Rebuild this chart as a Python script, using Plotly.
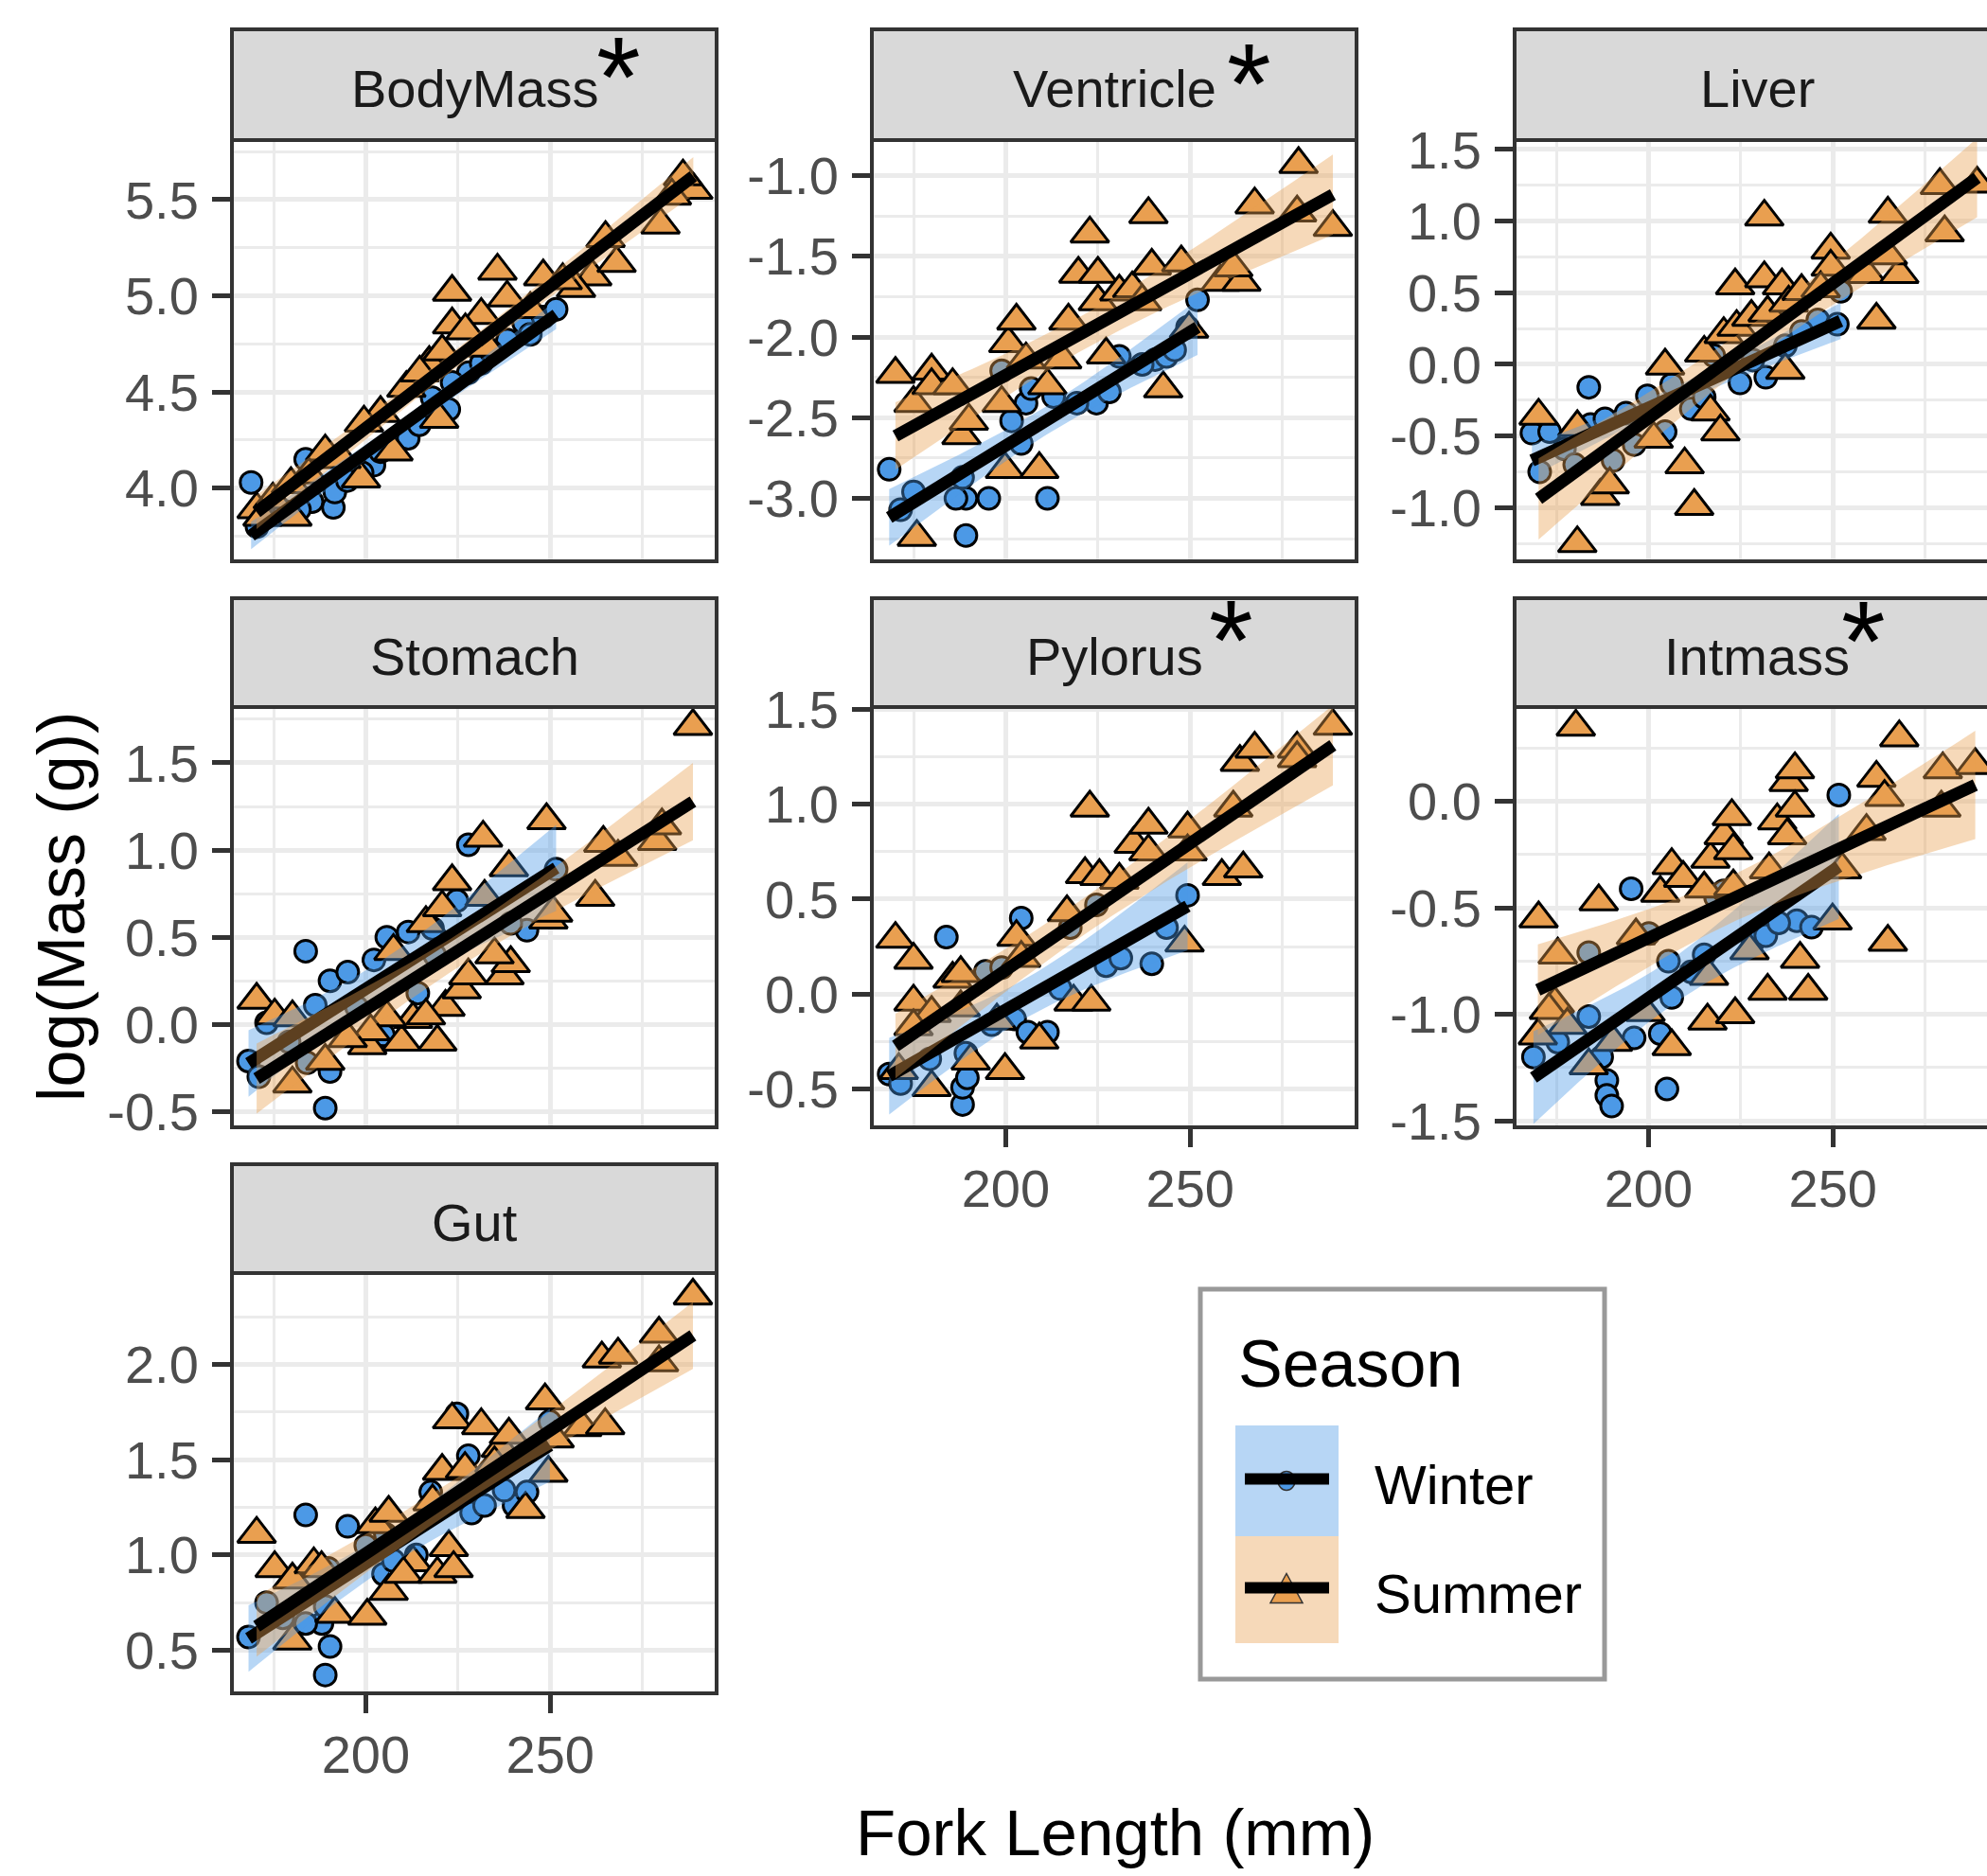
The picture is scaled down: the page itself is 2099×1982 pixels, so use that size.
import numpy as np
import plotly.graph_objects as go

W, H = 2099, 1982

# ---------------- data (fork length mm, log mass) ----------------
PANELS = ["BodyMass", "Ventricle", "Liver", "Stomach", "Pylorus", "Intmass", "Gut"]
STARRED = ["BodyMass", "Ventricle", "Pylorus", "Intmass"]
SEASONS = ["Winter", "Summer"]

BODYMASS_WINTER = [(168.9, 4.03), (183.7, 4.15), (191.2, 3.90), (191.6, 3.98), (185.4, 3.93), (202.2, 4.12),
                   (199.0, 4.08), (211.5, 4.26), (214.5, 4.33), (222.5, 4.41), (227.8, 4.60), (223.4, 4.55),
                   (231.3, 4.65), (238.4, 4.77), (242.8, 4.86), (248.1, 4.89), (251.6, 4.93), (218.0, 4.47),
                   (204.0, 4.19), (195.0, 4.04), (173.0, 3.85), (182.0, 3.89), (234.0, 4.71), (244.6, 4.80),
                   (170.5, 3.80), (178.0, 3.88)]
BODYMASS_SUMMER = [(170.4, 3.89), (174.8, 3.94), (180.1, 3.85), (179.7, 4.02), (189.0, 4.19), (198.7, 4.05),
                   (204.0, 4.39), (207.5, 4.19), (219.9, 4.36), (223.4, 5.02), (223.4, 4.85), (231.3, 4.90),
                   (235.7, 5.13), (238.3, 4.99), (248.1, 5.10), (261.4, 5.10), (268.0, 5.17), (265.0, 5.30),
                   (279.9, 5.37), (288.8, 5.55), (217.2, 4.65), (211.0, 4.52), (214.6, 4.60), (227.0, 4.82),
                   (233.0, 4.73), (257.0, 5.04), (253.4, 5.08), (220.7, 4.71), (199.5, 4.34), (193.4, 4.15),
                   (184.5, 4.07), (172.0, 3.85), (244.6, 4.93), (286.0, 5.62), (283.0, 5.52)]

VENTRICLE_WINTER = [(168.4, -2.82), (198.9, -2.21), (189.2, -3.00), (186.5, -3.00), (195.4, -3.00), (211.3, -3.00),
                    (189.2, -3.23), (204.2, -2.66), (205.5, -2.41), (206.9, -2.32), (224.6, -2.41), (228.1, -2.34),
                    (230.8, -2.12), (240.5, -2.14), (243.6, -2.12), (252.0, -1.77), (219.3, -2.41), (213.0, -2.37),
                    (188.3, -2.87), (175.0, -2.96), (171.5, -3.07), (201.6, -2.52), (237.0, -2.17), (245.8, -2.08),
                    (249.3, -1.94)]
VENTRICLE_SUMMER = [(170.1, -2.23), (175.0, -2.41), (179.9, -2.21), (179.9, -2.30), (185.6, -2.30), (175.9, -3.24),
                    (188.0, -2.61), (199.8, -2.82), (209.1, -2.82), (200.7, -2.04), (202.9, -1.90), (205.5, -2.14),
                    (198.9, -2.41), (211.3, -2.30), (222.8, -1.36), (219.7, -1.61), (225.0, -1.61), (225.0, -1.78),
                    (217.0, -1.90), (215.3, -2.14), (227.2, -2.11), (230.8, -1.72), (234.3, -1.70), (238.7, -1.24),
                    (239.6, -1.56), (247.6, -1.54), (242.7, -2.32), (258.2, -1.66), (263.9, -1.66), (261.7, -1.57),
                    (267.5, -1.18), (279.4, -0.93), (279.0, -1.23), (288.7, -1.32), (190.0, -2.52), (249.7, -1.95),
                    (237.0, -1.78)]

LIVER_WINTER = [(168.4, -0.48), (173.2, -0.47), (183.8, -0.16), (184.3, -0.42), (188.2, -0.38), (193.9, -0.34),
                (196.1, -0.56), (199.7, -0.22), (204.5, -0.47), (206.3, -0.14), (211.6, -0.31), (215.1, -0.23),
                (217.7, 0.06), (224.8, -0.13), (231.8, -0.09), (228.3, 0.03), (245.9, 0.31), (251.2, 0.28),
                (252.1, 0.51), (190.4, -0.67), (177.2, -0.59), (241.5, 0.23), (237.1, 0.13), (170.5, -0.75),
                (180.0, -0.70)]
LIVER_SUMMER = [(170.2, -0.36), (180.7, -0.44), (186.9, -0.92), (189.5, -0.84), (180.7, -1.25), (204.5, -0.01),
                (201.4, -0.52), (209.8, -0.70), (212.4, -0.99), (216.8, -0.33), (219.5, -0.47), (215.1, 0.08),
                (220.4, 0.21), (223.9, 0.26), (227.9, 0.33), (223.5, 0.55), (231.4, 0.60), (236.2, 0.55),
                (231.4, 1.03), (232.3, 0.36), (237.1, -0.04), (238.0, 0.43), (241.5, 0.51), (249.4, 0.80),
                (249.4, 0.68), (261.8, 0.31), (259.1, 0.63), (268.0, 0.63), (264.9, 1.05), (279.0, 1.25),
                (280.3, 0.92), (289.1, 1.26), (246.7, 0.53), (264.9, 0.76)]

STOMACH_WINTER = [(168.2, -0.21), (173.1, 0.01), (183.7, 0.42), (189.0, -0.48), (190.3, -0.27), (184.1, -0.22),
                  (190.3, 0.25), (195.1, 0.30), (202.2, 0.37), (205.7, 0.50), (204.8, -0.06), (211.5, 0.53),
                  (214.1, 0.18), (218.1, 0.55), (224.7, 0.71), (227.8, 1.03), (243.7, 0.54), (186.3, 0.11),
                  (251.6, 0.89), (239.3, 0.58), (218.6, 0.40), (197.5, 0.10), (179.2, -0.10), (171.0, -0.30)]
STOMACH_SUMMER = [(170.4, 0.14), (175.3, 0.05), (180.1, 0.04), (180.1, -0.34), (189.0, -0.21), (200.4, -0.12),
                  (209.7, -0.10), (219.4, -0.10), (212.8, 0.03), (221.6, 0.10), (226.0, 0.20), (227.8, 0.28),
                  (216.3, 0.05), (205.7, 0.04), (207.5, 0.42), (216.3, 0.58), (220.7, 0.67), (223.4, 0.82),
                  (232.2, 0.73), (231.8, 1.07), (237.6, 0.28), (239.3, 0.35), (234.9, 0.40), (238.8, 0.90),
                  (249.0, 1.17), (249.5, 0.60), (250.8, 0.64), (262.2, 0.73), (264.4, 1.04), (268.4, 0.96),
                  (279.0, 1.05), (280.3, 1.14), (288.7, 1.71), (201.3, -0.04), (195.1, -0.08)]

PYLORUS_WINTER = [(168.4, -0.42), (183.9, 0.30), (188.3, -0.58), (188.3, -0.49), (189.6, -0.44), (189.2, -0.31),
                  (194.5, 0.12), (198.9, 0.14), (204.2, 0.40), (202.4, -0.13), (206.0, -0.20), (211.3, -0.20),
                  (217.5, 0.35), (224.6, 0.47), (227.2, 0.15), (231.2, 0.19), (239.6, 0.16), (243.6, 0.35),
                  (249.3, 0.52), (214.8, 0.03), (196.2, -0.16), (179.4, -0.34), (171.5, -0.47)]
PYLORUS_SUMMER = [(170.1, 0.29), (175.0, 0.18), (175.0, -0.04), (179.9, -0.10), (175.0, -0.17), (185.6, 0.08),
                  (187.8, 0.11), (187.8, -0.07), (179.9, -0.49), (190.5, -0.35), (199.8, -0.40), (202.9, 0.30),
                  (204.2, 0.19), (209.1, -0.24), (197.6, -0.14), (216.6, 0.43), (218.4, -0.04), (223.2, -0.04),
                  (221.5, 0.63), (225.4, 0.62), (230.8, 0.60), (222.8, 0.98), (234.7, 0.79), (238.7, 0.89),
                  (238.7, 0.75), (249.3, 0.87), (248.5, 0.27), (258.6, 0.62), (264.4, 0.66), (261.7, 0.98),
                  (263.5, 1.22), (267.5, 1.29), (279.0, 1.29), (279.0, 1.24), (288.7, 1.41), (249.3, 0.75),
                  (171.0, -0.40)]

INTMASS_WINTER = [(168.8, -1.20), (183.8, -0.71), (195.3, -0.41), (187.3, -1.20), (188.7, -1.31), (188.7, -1.38),
                  (190.0, -1.43), (196.1, -1.11), (203.2, -1.09), (205.0, -1.35), (206.3, -0.92), (200.1, -0.62),
                  (205.4, -0.75), (211.6, -0.80), (218.2, -0.45), (220.4, -0.42), (228.3, -0.66), (231.8, -0.63),
                  (240.2, -0.56), (244.2, -0.59), (251.6, 0.03), (183.8, -1.01), (215.1, -0.72), (235.3, -0.57),
                  (175.4, -1.13)]
INTMASS_SUMMER = [(180.3, 0.35), (170.2, -0.55), (175.4, -0.72), (186.5, -0.47), (196.6, -0.63), (203.2, -0.43),
                  (206.3, -0.30), (209.4, -0.36), (206.3, -1.15), (216.0, -1.03), (223.5, -1.00), (215.1, -0.41),
                  (216.8, -0.27), (216.4, -0.82), (220.4, -0.16), (222.6, -0.07), (223.0, -0.23), (223.0, -0.40),
                  (232.7, -0.32), (232.3, -0.89), (234.9, -0.09), (237.6, -0.16), (238.0, 0.09), (239.7, 0.15),
                  (239.7, -0.03), (241.1, -0.74), (243.3, -0.89), (227.4, -0.70), (249.9, -0.56), (252.5, -0.32),
                  (259.1, -0.14), (261.8, 0.11), (264.0, 0.02), (268.0, 0.30), (264.9, -0.66), (279.8, 0.15),
                  (279.4, -0.03), (288.6, 0.17), (174.6, -0.95), (183.8, -1.24), (199.2, -0.99), (173.0, -0.98),
                  (178.0, -1.05), (190.4, -1.13), (170.0, -1.10)]

GUT_WINTER = [(168.2, 0.57), (173.1, 0.75), (183.7, 1.21), (195.1, 1.15), (189.0, 0.37), (190.3, 0.52),
              (188.1, 0.64), (183.7, 0.64), (189.0, 0.73), (189.8, 0.93), (200.0, 1.05), (205.3, 1.11),
              (204.8, 0.90), (213.7, 1.00), (217.6, 1.33), (224.7, 1.74), (227.8, 1.52), (228.7, 1.22),
              (232.2, 1.26), (240.2, 1.26), (243.7, 1.33), (249.9, 1.70), (207.5, 0.97), (177.5, 0.67),
              (237.5, 1.34)]
GUT_SUMMER = [(170.4, 1.11), (175.3, 0.93), (180.1, 0.87), (180.1, 0.55), (185.9, 0.95), (188.0, 0.93),
              (191.6, 0.69), (200.4, 0.68), (202.6, 1.16), (206.2, 1.22), (206.2, 0.81), (212.8, 0.96),
              (210.2, 0.90), (219.4, 0.90), (222.5, 1.04), (223.8, 0.93), (218.1, 1.28), (220.7, 1.44),
              (223.4, 1.71), (231.3, 1.68), (236.6, 1.56), (238.8, 1.63), (226.9, 1.45), (234.9, 1.48),
              (243.3, 1.24), (248.6, 1.81), (249.5, 1.43), (258.7, 1.67), (264.9, 1.68), (264.0, 2.03),
              (268.4, 2.05), (279.5, 2.16), (279.5, 2.01), (288.7, 2.36), (251.2, 1.61)]

Y_RANGES = [(3.62, 5.81), (-3.39, -0.78), (-1.375, 1.566), (-0.59, 1.82), (-0.70, 1.51), (-1.53, 0.443), (0.274, 2.479)]
Y_TICKS = [[4.0, 4.5, 5.0, 5.5], [-3.0, -2.5, -2.0, -1.5, -1.0], [-1.0, -0.5, 0.0, 0.5, 1.0, 1.5],
           [-0.5, 0.0, 0.5, 1.0, 1.5], [-0.5, 0.0, 0.5, 1.0, 1.5], [-1.5, -1.0, -0.5, 0.0], [0.5, 1.0, 1.5, 2.0]]
X_TICKS = [200, 250]
X_MINOR = [175, 225, 275]

DATA = {
    "BodyMass": (BODYMASS_WINTER, BODYMASS_SUMMER),
    "Ventricle": (VENTRICLE_WINTER, VENTRICLE_SUMMER),
    "Liver": (LIVER_WINTER, LIVER_SUMMER),
    "Stomach": (STOMACH_WINTER, STOMACH_SUMMER),
    "Pylorus": (PYLORUS_WINTER, PYLORUS_SUMMER),
    "Intmass": (INTMASS_WINTER, INTMASS_SUMMER),
    "Gut": (GUT_WINTER, GUT_SUMMER),
}

# ---------------- styling / layout ----------------
FONT = "Liberation Sans, Arial, sans-serif"
PT_COL = {"Winter": "#4C99E6", "Summer": "#E99F50"}
RIB_COL = {"Winter": "rgba(76,153,230,0.4)", "Summer": "rgba(233,159,80,0.4)"}
SYMBOL = {"Winter": "circle", "Summer": "triangle-up"}
MSIZE = {"Winter": 23, "Summer": 35}
GRID = "#EBEBEB"
DARK = "#333333"

COL_LEFT = [245, 921, 1600]
PANEL_W = 512
STRIP_TOP = [31, 632, 1230]
PLOT_TOP = [148, 747, 1345]
PLOT_BOT = [593, 1191, 1789]
X_MIN = 163.7
PX_PER_MM = 3.896
POS = {"BodyMass": (0, 0), "Ventricle": (0, 1), "Liver": (0, 2), "Stomach": (1, 0),
       "Pylorus": (1, 1), "Intmass": (1, 2), "Gut": (2, 0)}
BOTTOM = ["Gut", "Pylorus", "Intmass"]


def px(x):
    return x / W


def py(y):
    return 1 - y / H


def t975(df):
    z = 1.959963985
    g1 = (z ** 3 + z) / 4
    g2 = (5 * z ** 5 + 16 * z ** 3 + 3 * z) / 96
    g3 = (3 * z ** 7 + 19 * z ** 5 + 17 * z ** 3 - 15 * z) / 384
    return z + g1 / df + g2 / df ** 2 + g3 / df ** 3


def lm_band(pts):
    x = np.array([p[0] for p in pts], float)
    y = np.array([p[1] for p in pts], float)
    n = len(x)
    xb, yb = x.mean(), y.mean()
    sxx = ((x - xb) ** 2).sum()
    b1 = ((x - xb) * (y - yb)).sum() / sxx
    b0 = yb - b1 * xb
    s = np.sqrt(((y - b0 - b1 * x) ** 2).sum() / (n - 2))
    xs = np.linspace(x.min(), x.max(), 80)
    yh = b0 + b1 * xs
    se = s * np.sqrt(1 / n + (xs - xb) ** 2 / sxx)
    t = t975(n - 2)
    return xs, yh, yh - t * se, yh + t * se


fig = go.Figure()
shapes = []
annotations = []

for i, name in enumerate(PANELS):
    k = i + 1
    r, c = POS[name]
    xa = "x" if k == 1 else f"x{k}"
    ya = "y" if k == 1 else f"y{k}"
    left = COL_LEFT[c]
    right = min(left + PANEL_W, W)
    xr = [X_MIN, X_MIN + (right - left) / PX_PER_MM]
    is_bottom = name in BOTTOM

    fig.layout[("xaxis" if k == 1 else f"xaxis{k}")] = dict(
        domain=[px(left), px(right)], range=xr, anchor=ya, automargin=False,
        tickvals=X_TICKS, ticktext=[str(v) for v in X_TICKS],
        showticklabels=is_bottom, ticks="outside" if is_bottom else "",
        ticklen=20, tickwidth=5, tickcolor=DARK, ticklabelstandoff=-4,
        tickfont=dict(family=FONT, size=56, color="#4D4D4D"),
        showgrid=True, gridcolor=GRID, gridwidth=5, zeroline=False, showline=False,
        minor=dict(tickvals=X_MINOR, showgrid=True, gridcolor=GRID, gridwidth=2.7, ticks=""),
    )
    yt = Y_TICKS[i]
    y0, y1 = Y_RANGES[i]
    minor = [v + 0.25 for v in [yt[0] - 0.5] + yt if y0 < v + 0.25 < y1]
    fig.layout[("yaxis" if k == 1 else f"yaxis{k}")] = dict(
        domain=[py(PLOT_BOT[r]), py(PLOT_TOP[r])], range=[y0, y1], anchor=xa, automargin=False,
        tickvals=yt, ticktext=[f"{v:.1f}".replace("-0.0", "0.0") for v in yt],
        ticks="outside", ticklen=20, tickwidth=5, tickcolor=DARK, ticklabelstandoff=3,
        tickfont=dict(family=FONT, size=56, color="#4D4D4D"),
        showgrid=True, gridcolor=GRID, gridwidth=5, zeroline=False, showline=False,
        minor=dict(tickvals=minor, showgrid=True, gridcolor=GRID, gridwidth=2.7, ticks=""),
    )

    win, summ = DATA[name]
    for season, pts in zip(SEASONS, (win, summ)):
        fig.add_trace(go.Scatter(
            x=[p[0] for p in pts], y=[p[1] for p in pts], mode="markers", xaxis=xa, yaxis=ya,
            marker=dict(symbol=SYMBOL[season], size=MSIZE[season], color=PT_COL[season],
                        line=dict(color="black", width=3)),
            showlegend=False, hoverinfo="skip"))
    for season, pts in zip(SEASONS, (win, summ)):
        xs, yh, lo, hi = lm_band(pts)
        fig.add_trace(go.Scatter(
            x=np.concatenate([xs, xs[::-1]]), y=np.concatenate([hi, lo[::-1]]),
            fill="toself", fillcolor=RIB_COL[season], line=dict(width=0), mode="lines",
            xaxis=xa, yaxis=ya, showlegend=False, hoverinfo="skip"))
        fig.add_trace(go.Scatter(
            x=xs, y=yh, mode="lines", line=dict(color="black", width=13), xaxis=xa, yaxis=ya,
            showlegend=False, hoverinfo="skip"))

    # strip + border
    full_right = left + PANEL_W
    shapes.append(dict(type="rect", xref="paper", yref="paper", x0=px(left), x1=px(full_right),
                       y0=py(PLOT_TOP[r]), y1=py(STRIP_TOP[r]), fillcolor="#D9D9D9",
                       line=dict(color=DARK, width=4), layer="above"))
    shapes.append(dict(type="rect", xref="paper", yref="paper", x0=px(left), x1=px(full_right),
                       y0=py(PLOT_BOT[r]), y1=py(PLOT_TOP[r]), fillcolor="rgba(0,0,0,0)",
                       line=dict(color=DARK, width=4), layer="above"))
    annotations.append(dict(text=name, xref="paper", yref="paper", x=px(left + PANEL_W / 2),
                            y=py((STRIP_TOP[r] + PLOT_TOP[r]) / 2 + 4), xanchor="center", yanchor="middle",
                            showarrow=False, font=dict(family=FONT, size=56, color="#1A1A1A")))

# asterisks for significant organs
STAR_POS = {"BodyMass": (653, 68), "Ventricle": (1319, 75), "Pylorus": (1300, 663), "Intmass": (1968, 664)}
for name in STARRED:
    sx, sy = STAR_POS[name]
    annotations.append(dict(text="*", xref="paper", yref="paper", x=px(sx), y=py(sy + 13),
                            xanchor="center", yanchor="middle", showarrow=False,
                            font=dict(family=FONT, size=120, color="black")))

# axis titles
annotations.append(dict(text="log(Mass (g))", xref="paper", yref="paper", x=px(65), y=py(958),
                        textangle=-90, xanchor="center", yanchor="middle", showarrow=False,
                        font=dict(family=FONT, size=70, color="black")))
annotations.append(dict(text="Fork Length (mm)", xref="paper", yref="paper", x=px(1178), y=py(1936),
                        xanchor="center", yanchor="middle", showarrow=False,
                        font=dict(family=FONT, size=69, color="black")))

# legend (drawn manually)
shapes.append(dict(type="rect", xref="paper", yref="paper", x0=px(1268), x1=px(1695), y0=py(1774), y1=py(1362),
                   fillcolor="white", line=dict(color="#999999", width=5), layer="above"))
annotations.append(dict(text="Season", xref="paper", yref="paper", x=px(1306), y=py(1441), xanchor="left",
                        yanchor="middle", showarrow=False, font=dict(family=FONT, size=70, color="black")))
KEY_ROWS = [("Winter", 1506, 1623), ("Summer", 1623, 1736)]
for season, k0, k1 in KEY_ROWS:
    cy = (k0 + k1) / 2
    shapes.append(dict(type="rect", xref="paper", yref="paper", x0=px(1305), x1=px(1414), y0=py(k1), y1=py(k0),
                       fillcolor=RIB_COL[season], line=dict(width=0), layer="above"))
    if season == "Winter":
        shapes.append(dict(type="circle", xref="paper", yref="paper", x0=px(1350), x1=px(1368),
                           y0=py(cy + 10), y1=py(cy - 10), fillcolor=PT_COL[season],
                           line=dict(color="#333333", width=1.5), layer="above"))
    else:
        path = (f"M {px(1342)},{py(cy + 14)} L {px(1376)},{py(cy + 14)} L {px(1359)},{py(cy - 17)} Z")
        shapes.append(dict(type="path", xref="paper", yref="paper", path=path, fillcolor=PT_COL[season],
                           line=dict(color="#333333", width=1.5), layer="above"))
    shapes.append(dict(type="line", xref="paper", yref="paper", x0=px(1315), x1=px(1404), y0=py(cy - 2),
                       y1=py(cy - 2), line=dict(color="black", width=12), layer="above"))
    annotations.append(dict(text=season, xref="paper", yref="paper", x=px(1450), y=py(cy + 4), xanchor="left",
                            yanchor="middle", showarrow=False, font=dict(family=FONT, size=58, color="black")))

fig.update_layout(width=W, height=H, margin=dict(l=0, r=0, t=0, b=0, autoexpand=False), paper_bgcolor="white",
                  plot_bgcolor="white", shapes=shapes, annotations=annotations, showlegend=False)

fig.write_html("out.html", config={"displayModeBar": False},
               post_script="document.body.style.margin='0';document.body.style.overflow='hidden';")
